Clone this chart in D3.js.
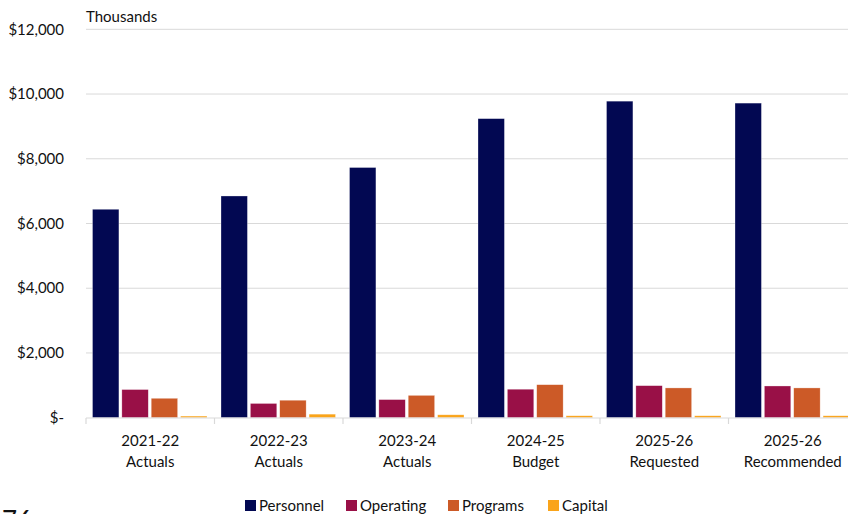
<!DOCTYPE html>
<html><head><meta charset="utf-8">
<script src="https://cdn.jsdelivr.net/npm/d3@7"></script>
<style>
body{margin:0;background:#fff;}
svg{display:block;font-family:Lato,"Open Sans",sans-serif;}
</style></head>
<body><svg id="c" width="848" height="514"></svg>
<script>
const categories = [["2021-22","Actuals"],["2022-23","Actuals"],["2023-24","Actuals"],["2024-25","Budget"],["2025-26","Requested"],["2025-26","Recommended"]];
const seriesNames = ["Personnel","Operating","Programs","Capital"];
const personnel = [6440, 6850, 7730, 9240, 9780, 9720];
const operating = [870, 440, 560, 880, 990, 980];
const programs = [600, 540, 690, 1020, 920, 920];
const capital = [50, 110, 90, 60, 60, 60];
const yTicks = [0, 2000, 4000, 6000, 8000, 10000, 12000];
const colors = ["#020852","#991047","#CC5A27","#FAA41A"];

const values = [personnel, operating, programs, capital];
const svg = d3.select("#c");
const x0 = d3.scaleBand().domain(d3.range(categories.length)).range([86, 857]).padding(0);
const x1 = d3.scaleBand().domain(d3.range(seriesNames.length)).range([6.5, x0.bandwidth()-7.5]).paddingInner(0.1);
const y = d3.scaleLinear().domain([0, 12000]).range([417.7, 29.3]);

// gridlines
svg.append("g").selectAll("line").data(yTicks.filter(d=>d>0)).join("line")
  .attr("x1",86).attr("x2",848).attr("y1",d=>y(d)).attr("y2",d=>y(d))
  .attr("stroke","#d9d9d9").attr("stroke-width",1);

// y labels
svg.append("g").selectAll("text").data(yTicks).join("text")
  .attr("x",64).attr("y",d=>y(d)).attr("dy","0.35em").attr("text-anchor","end")
  .attr("font-size",15).attr("fill","#111")
  .text(d=> d===0 ? "$-" : "$"+d3.format(",")(d));

svg.append("text").attr("x",86).attr("y",22).attr("font-size",15).attr("fill","#111").text("Thousands");

// bars
categories.forEach((c,i)=>{
  const g = svg.append("g").attr("transform",`translate(${x0(i)},0)`);
  g.selectAll("rect").data(values.map((v,s)=>({s, v:v[i]}))).join("rect")
    .attr("x",d=>x1(d.s)).attr("width",x1.bandwidth())
    .attr("y",d=>y(d.v)).attr("height",d=>y(0)-y(d.v))
    .attr("fill",d=>colors[d.s]).attr("stroke","#fff").attr("stroke-opacity",0.5).attr("stroke-width",0.6);
});

// x axis
const ax = svg.append("g");
ax.append("line").attr("x1",86).attr("x2",848).attr("y1",418).attr("y2",418).attr("stroke","#d9d9d9").attr("stroke-width",1.2);
ax.selectAll("line.tick").data(d3.range(categories.length+1)).join("line").attr("class","tick")
  .attr("x1",d=>86+d*x0.bandwidth()).attr("x2",d=>86+d*x0.bandwidth())
  .attr("y1",418).attr("y2",424).attr("stroke","#d9d9d9").attr("stroke-width",1.2);
categories.forEach((c,i)=>{
  const t = ax.append("text").attr("text-anchor","middle").attr("font-size",15).attr("fill","#111");
  t.append("tspan").attr("x",x0(i)+x0.bandwidth()/2).attr("y",446).text(c[0]);
  t.append("tspan").attr("x",x0(i)+x0.bandwidth()/2).attr("y",467).text(c[1]);
});

// legend
const legX = [245, 346, 448, 548];
const lg = svg.append("g");
seriesNames.forEach((n,i)=>{
  lg.append("rect").attr("x",legX[i]).attr("y",500).attr("width",11).attr("height",11).attr("fill",colors[i]);
  lg.append("text").attr("x",legX[i]+14).attr("y",511).attr("font-size",15).attr("fill","#111").text(n);
});

svg.append("text").attr("x",2).attr("y",530).attr("font-size",26).attr("fill","#111").text("76");
</script></body></html>
